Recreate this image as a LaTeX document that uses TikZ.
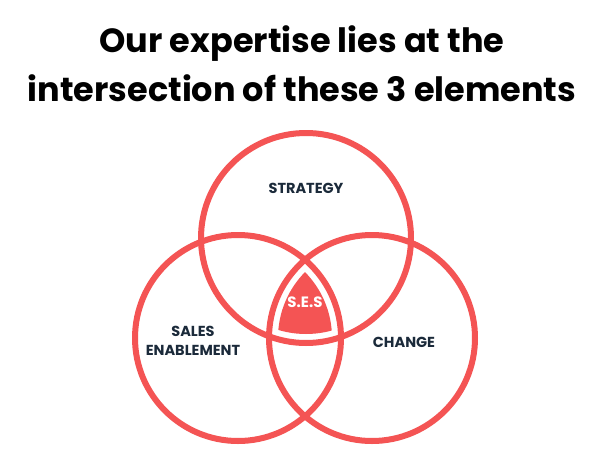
\documentclass[tikz,border=0pt]{standalone}
\usepackage{fontspec}
\setmainfont{Poppins}
\definecolor{vred}{HTML}{F45454}
\definecolor{navy}{HTML}{1B2A3A}
\begin{document}
\begin{tikzpicture}[x=1pt,y=-1pt,
  ring/.style={draw=vred,line width=6pt},
  lbl/.style={text=navy,font=\fontsize{14.5}{19}\selectfont\bfseries,align=center},
  ttl/.style={font=\fontsize{33.5}{40}\selectfont\bfseries,text=black}]
\useasboundingbox[fill=white] (0,0) rectangle (600,450);
\node[ttl] (t1) at (302,44) {Our expertise lies at the};
\node[ttl] (t2) at (302,88) {intersection of these 3 elements};
\begin{scope}
\clip (306,238) circle (96);
\clip (238,338) circle (94);
\fill[vred] (372,338) circle (94);
\end{scope}
\draw[ring] (306,238) circle (105);
\draw[ring] (238,338) circle (103);
\draw[ring] (372,338) circle (103);
\node[lbl] (s) at (306,188) {STRATEGY};
\node[lbl] (e) at (193,341) {SALES\\ENABLEMENT};
\node[lbl] (c) at (404,342) {CHANGE};
\node[text=white,font=\fontsize{15}{17}\selectfont\bfseries] (ses) at (305,302) {S.E.S};
\end{tikzpicture}
\end{document}
